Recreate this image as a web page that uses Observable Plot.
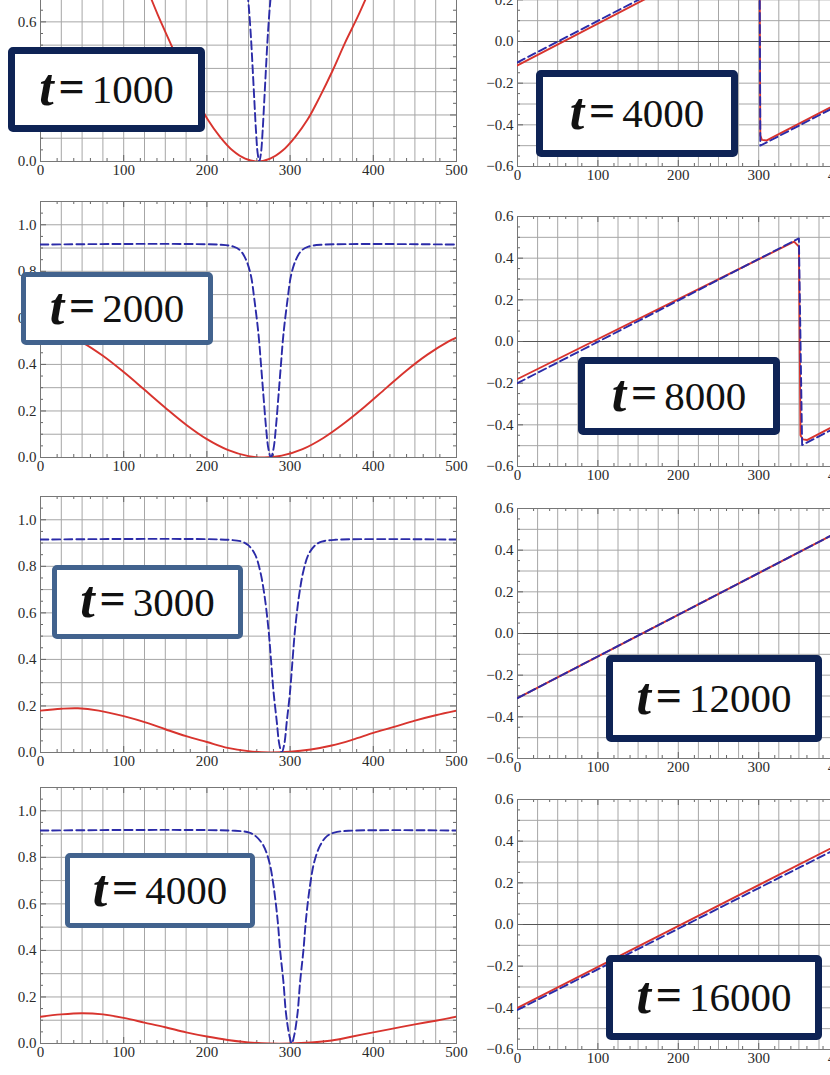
<!DOCTYPE html>
<html>
<head>
<meta charset="utf-8">
<script src="https://cdn.jsdelivr.net/npm/d3@7"></script>
<script src="https://cdn.jsdelivr.net/npm/@observablehq/plot@0.6"></script>
<style>
html, body { margin: 0; padding: 0; width: 830px; height: 1075px; overflow: hidden; background: #fff; }
#wrap { position: relative; width: 830px; height: 1075px; overflow: hidden; }
.panel { position: absolute; }
.panel svg { max-width: none !important; }
.lbl { position: absolute; box-sizing: border-box; background: #fff; border-style: solid; border-radius: 5px;
       display: flex; align-items: center; justify-content: center;
       font-family: "Liberation Serif", "DejaVu Serif", serif; color: #111; line-height: 1; white-space: nowrap; }
.lbl .t { font-weight: bold; font-style: italic; font-size: 52px; position: relative; top: -2px; }
.lbl .eq { font-weight: bold; font-size: 46px; margin: 0 7px 0 5px; position: relative; top: -3px; }
.lbl .n { font-size: 41px; }
</style>
</head>
<body>
<div id="wrap"></div>
<script>
// ---------------- data ----------------
const leftTimes = ["1000", "2000", "3000", "4000"];
const rightTimes = ["4000", "8000", "12000", "16000"];

// left column (red solid, blue dashed), x in [0,500], y in [0,1.1]
const redL1 = [[81,1.1],[96,1.0],[111,0.88],[126,0.76],[141,0.63],[156,0.51],[171,0.39],[186,0.28],[201,0.18],[216,0.105],[231,0.047],[246,0.012],[261,0],[276,0.012],[291,0.047],[306,0.105],[321,0.18],[336,0.28],[351,0.39],[366,0.51],[381,0.62],[396,0.74],[411,0.86],[426,0.98],[441,1.1]];
const blueL1 = [[0,0.915],[223,0.914],[233,0.906],[238,0.89],[243,0.85],[247,0.78],[250,0.68],[253,0.53],[255,0.40],[257,0.264],[259,0.132],[261,0.036],[263,0],[265,0.036],[267,0.132],[269,0.264],[271,0.40],[273,0.53],[276,0.68],[279,0.78],[283,0.85],[288,0.89],[293,0.906],[303,0.914],[500,0.915]];

const redL2 = [[0,0.555],[25,0.535],[50,0.495],[75,0.437],[100,0.367],[125,0.291],[150,0.214],[175,0.141],[200,0.079],[225,0.033],[250,0.006],[269,0],[290,0.008],[315,0.036],[340,0.084],[365,0.147],[390,0.219],[415,0.297],[440,0.374],[465,0.442],[490,0.498],[500,0.515]];
const blueL2 = [[0,0.915],[217,0.914],[232,0.906],[240,0.89],[247,0.85],[253,0.78],[257,0.68],[262,0.53],[265,0.40],[268,0.264],[271,0.132],[274,0.036],[277,0],[280,0.036],[283,0.132],[286,0.264],[289,0.40],[292,0.53],[297,0.68],[301,0.78],[307,0.85],[314,0.89],[322,0.906],[337,0.914],[500,0.915]];

const redL3 = [[0,0.18],[25,0.188],[45,0.19],[70,0.18],[100,0.156],[130,0.125],[150,0.10],[175,0.07],[200,0.045],[225,0.02],[250,0.006],[275,0],[300,0.003],[325,0.013],[350,0.03],[375,0.055],[400,0.084],[425,0.11],[450,0.137],[475,0.16],[500,0.18]];
const blueL3 = [[0,0.915],[226,0.914],[242,0.906],[250,0.89],[258,0.85],[264,0.78],[269,0.68],[274,0.53],[277,0.40],[280,0.264],[284,0.132],[287,0.036],[290,0],[293,0.036],[296,0.132],[300,0.264],[303,0.40],[306,0.53],[311,0.68],[316,0.78],[322,0.85],[330,0.89],[338,0.906],[354,0.914],[500,0.915]];

const redL4 = [[0,0.115],[25,0.125],[50,0.13],[75,0.125],[100,0.11],[125,0.09],[150,0.07],[175,0.048],[200,0.03],[225,0.015],[250,0.005],[275,0],[300,0],[325,0.004],[350,0.013],[375,0.03],[400,0.048],[425,0.065],[450,0.082],[475,0.098],[500,0.115]];
const blueL4 = [[0,0.915],[234,0.914],[251,0.906],[259,0.89],[268,0.85],[275,0.78],[280,0.68],[285,0.53],[288,0.40],[292,0.264],[295,0.132],[299,0.036],[302,0],[305,0.036],[309,0.132],[312,0.264],[316,0.40],[319,0.53],[324,0.68],[329,0.78],[336,0.85],[344,0.89],[353,0.906],[370,0.914],[500,0.915]];

// right column, y in [-0.6,0.6]
const redR1 = [[0,-0.115],[299,0.485],[301,0.46],[302,-0.45],[304,-0.472],[310,-0.475],[500,-0.095]];
const blueR1 = [[0,-0.10],[301,0.50],[302,-0.50],[500,-0.105]];
const redR2 = [[0,-0.18],[344,0.479],[350,0.455],[352,-0.45],[355,-0.47],[360,-0.473],[500,-0.193]];
const blueR2 = [[0,-0.20],[350,0.495],[354,-0.497],[500,-0.205]];
const redR3 = [[0,-0.31],[395,0.48]];
const blueR3 = [[0,-0.31],[395,0.48]];
const redR4 = [[0,-0.40],[395,0.376]];
const blueR4 = [[0,-0.41],[395,0.36]];

const xTicks = [0, 100, 200, 300, 400, 500];
const xGrid = d3.range(0, 501, 25);
const xMinor = d3.range(0, 501, 20);
const yTicksL = [0, 0.2, 0.4, 0.6, 0.8, 1.0];
const yGridL = d3.range(0, 1.101, 0.1);
const yMinorL = d3.range(0, 1.101, 0.05);
const yTicksR = [-0.6, -0.4, -0.2, 0, 0.2, 0.4, 0.6];
const yGridR = d3.range(-0.6, 0.601, 0.1);
const yMinorR = d3.range(-0.6, 0.601, 0.05);

// ---------------- drawing ----------------
const RED = "#d8342e", BLUE = "#2b2ba8";
const wrap = document.getElementById("wrap");

function makePanel({left, top, marginLeft, plotW, plotH, yDomain, yTicks, yGrid, yMinor, red, blue, zeroLine, curve}) {
  const mT = 10, mB = 30, mR = 16;
  const [y0, y1] = yDomain;
  const ySpan = y1 - y0;
  const tkMajY = 6 / plotH * ySpan, tkMinY = 3 / plotH * ySpan;
  const tkMajX = 6 / plotW * 500, tkMinX = 3 / plotW * 500;
  const isMajX = d => d % 100 === 0;
  const isMajY = d => Math.abs(Math.round(d / 0.2) * 0.2 - d) < 1e-6;
  const marks = [
    Plot.gridX({ticks: xGrid, stroke: "#a6a6a6", strokeOpacity: 1, strokeWidth: 1}),
    Plot.gridY({ticks: yGrid, stroke: "#a6a6a6", strokeOpacity: 1, strokeWidth: 1}),
  ];
  if (zeroLine) marks.push(Plot.ruleY([0], {stroke: "#555", strokeWidth: 1.2}));
  marks.push(
    Plot.ruleX(xMinor, {x: d => d, y1: y0, y2: d => y0 + (isMajX(d) ? tkMajY : tkMinY), stroke: "#666"}),
    Plot.ruleX(xMinor, {x: d => d, y1: y1, y2: d => y1 - (isMajX(d) ? tkMajY : tkMinY), stroke: "#666"}),
    Plot.ruleY(yMinor, {y: d => d, x1: 0, x2: d => (isMajY(d) ? tkMajX : tkMinX), stroke: "#666"}),
    Plot.ruleY(yMinor, {y: d => d, x1: 500, x2: d => 500 - (isMajY(d) ? tkMajX : tkMinX), stroke: "#666"}),
    Plot.frame({stroke: "#777", strokeWidth: 1}),
    Plot.axisX({ticks: xTicks, tickSize: 0, tickPadding: 3, label: null, tickFormat: d3.format("d"), fill: "#2a2a2a", fontSize: 15}),
    Plot.axisY({ticks: yTicks, tickSize: 0, tickPadding: 4, label: null, tickFormat: d3.format(".1f"), fill: "#2a2a2a", fontSize: 15}),
    Plot.line(red, {x: d => d[0], y: d => d[1], stroke: RED, strokeWidth: 1.9, curve, clip: true}),
    Plot.line(blue, {x: d => d[0], y: d => d[1], stroke: BLUE, strokeWidth: 1.9, strokeDasharray: "8,4", curve, clip: true})
  );
  const W = marginLeft + plotW + mR, H = mT + plotH + mB;
  const svg = Plot.plot({
    width: W, height: H,
    marginLeft, marginRight: mR, marginTop: mT, marginBottom: mB,
    style: {background: "transparent", overflow: "visible", maxWidth: "none", fontFamily: "'Liberation Serif', serif", fontSize: "15px"},
    x: {domain: [0, 500]},
    y: {domain: yDomain},
    marks
  });
  const div = document.createElement("div");
  div.className = "panel";
  div.style.left = (left - marginLeft) + "px";
  div.style.top = (top - mT) + "px";
  div.style.width = W + "px";
  div.style.height = H + "px";
  div.appendChild(svg);
  wrap.appendChild(div);
}

const leftRed = [redL1, redL2, redL3, redL4];
const leftBlue = [blueL1, blueL2, blueL3, blueL4];
const leftBottoms = [161, 457, 752, 1043];
leftBottoms.forEach((b, i) => makePanel({
  left: 40, top: b - 256, marginLeft: 40, plotW: 416, plotH: 256,
  yDomain: [0, 1.1], yTicks: yTicksL, yGrid: yGridL, yMinor: yMinorL,
  red: leftRed[i], blue: leftBlue[i], zeroLine: false, curve: "catmull-rom"
}));

const rightRed = [redR1, redR2, redR3, redR4];
const rightBlue = [blueR1, blueR2, blueR3, blueR4];
const rightBottoms = [166, 466, 758, 1049];
rightBottoms.forEach((b, i) => makePanel({
  left: 517, top: b - 250, marginLeft: 45, plotW: 402, plotH: 250,
  yDomain: [-0.6, 0.6], yTicks: yTicksR, yGrid: yGridR, yMinor: yMinorR,
  red: rightRed[i], blue: rightBlue[i], zeroLine: true, curve: "linear"
}));

// time labels
const NAVY = "#0e2355", STEEL = "#42638e";
const boxes = [
  {t: leftTimes[0], x: 8, y: 47, w: 197, h: 85, c: NAVY, bw: 7},
  {t: rightTimes[0], x: 536, y: 70, w: 202, h: 87, c: NAVY, bw: 7},
  {t: leftTimes[1], x: 21, y: 272, w: 192, h: 73, c: STEEL, bw: 5},
  {t: rightTimes[1], x: 578, y: 357, w: 202, h: 78, c: NAVY, bw: 7},
  {t: leftTimes[2], x: 52, y: 565, w: 191, h: 74, c: STEEL, bw: 5},
  {t: rightTimes[2], x: 606, y: 655, w: 216, h: 87, c: NAVY, bw: 7},
  {t: leftTimes[3], x: 65, y: 853, w: 190, h: 75, c: STEEL, bw: 5},
  {t: rightTimes[3], x: 606, y: 955, w: 216, h: 85, c: NAVY, bw: 7}
];
for (const b of boxes) {
  const d = document.createElement("div");
  d.className = "lbl";
  Object.assign(d.style, {left: b.x + "px", top: b.y + "px", width: b.w + "px", height: b.h + "px",
    borderColor: b.c, borderWidth: b.bw + "px"});
  d.innerHTML = `<span class="t">t</span><span class="eq">=</span><span class="n">${b.t}</span>`;
  wrap.appendChild(d);
}
</script>
</body>
</html>
